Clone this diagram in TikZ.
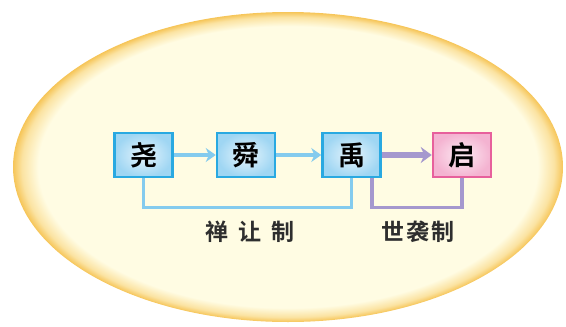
\documentclass[tikz,border=0pt]{standalone}
\usepackage{fontspec}
\usetikzlibrary{arrows.meta,positioning}
\newfontfamily\cjk{Noto Sans CJK SC Bold}
\definecolor{cream}{HTML}{FFFCE3}
\definecolor{rimlight}{HTML}{FBE3A2}
\definecolor{rimdark}{HTML}{F6C558}
\definecolor{boxblue}{HTML}{29A9E1}
\definecolor{fillblue}{HTML}{9FD6F3}
\definecolor{boxpink}{HTML}{E7609C}
\definecolor{fillpink}{HTML}{F4B3D1}
\definecolor{linkblue}{HTML}{84CBEE}
\definecolor{linkpurple}{HTML}{A598CE}
\definecolor{labelgray}{HTML}{2E2E2E}
\pgfdeclareradialshading{rim}{\pgfpoint{0bp}{0bp}}{color(0bp)=(cream); color(22.7bp)=(cream); color(24.2bp)=(rimlight); color(25bp)=(rimdark); color(50bp)=(rimdark)}

\begin{document}
\begin{tikzpicture}[x=1pt, y=-1pt,
  ruler/.style={draw=boxblue, line width=2.5pt, inner color=fillblue!25, outer color=fillblue,
    minimum width=58pt, minimum height=44pt, font=\cjk\fontsize{27}{27}\selectfont},
  heir/.style={ruler, draw=boxpink, inner color=fillpink!25, outer color=fillpink},
  pass/.style={line width=4.5pt, linkblue, -{Stealth[length=10pt, width=14pt]}},
  bracket/.style={line width=3.5pt},
  system/.style={font=\cjk\fontsize{23}{23}\selectfont, text=labelgray}]
  \useasboundingbox (0,0) rectangle (566,327);
  \shade[shading=rim] (288,167) ellipse [x radius=275, y radius=155];
  \node[ruler] (Yao) at (143.5,155) {尧};
  \node[ruler, right=42pt of Yao] (Shun) {舜};
  \node[ruler, right=45pt of Shun] (Yu) {禹};
  \node[heir, right=50pt of Yu] (Qi) {启};
  \draw[pass] (Yao) -- (Shun);
  \draw[pass] (Shun) -- (Yu);
  \draw[pass, line width=6pt, linkpurple, -{Stealth[length=11pt, width=16pt]}] (Yu) -- (Qi);
  \draw[bracket, linkblue] (Yao.south) -- ++(0,29) -| (Yu.south);
  \draw[bracket, linkpurple] ([xshift=-10pt]Yu.south east) -- ++(0,29) -| (Qi.south);
  \node[system] (Chan) at (250,232) {禅\hspace{0.45em}让\hspace{0.45em}制};
  \node[system] (Shi) at (418,232) {世\hspace{0.1em}袭\hspace{0.1em}制};
\end{tikzpicture}
\end{document}
